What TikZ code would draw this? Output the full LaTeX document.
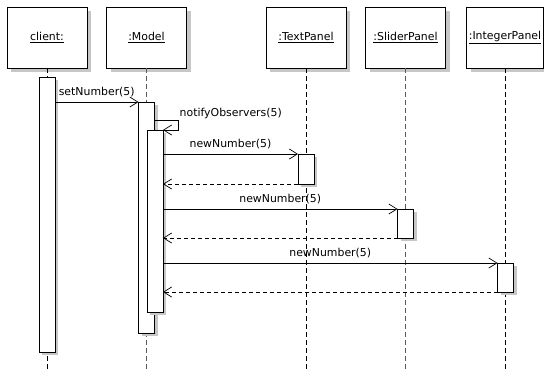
\documentclass[tikz,border=0pt]{standalone}
\usepackage{fontspec}
\setmainfont{DejaVu Sans}
\usetikzlibrary{arrows.meta,shadows}
\begin{document}
\begin{tikzpicture}[x=1pt,y=-1pt,
  font=\fontsize{10.9}{12}\selectfont,
  head/.style={draw, line width=0.8pt, fill=white, minimum width=80pt, minimum height=61pt,
    inner sep=0pt, outer sep=0pt,
    drop shadow={shadow xshift=4pt, shadow yshift=-4pt, fill=black!22, opacity=1}},
  act/.style={draw, line width=0.8pt, fill=white, minimum width=16pt, inner sep=0pt, outer sep=0pt,
    anchor=north,
    drop shadow={shadow xshift=3pt, shadow yshift=-3pt, fill=black!22, opacity=1}},
  life/.style={line width=0.8pt, dash pattern=on 5pt off 3pt},
  glife/.style={life, draw=black!65, line width=1.2pt},
  msg/.style={line width=0.7pt, -{Straight Barb[length=8pt,width=10pt]}},
  ret/.style={msg, dash pattern=on 4pt off 3pt},
  lbl/.style={inner sep=1pt}]
\useasboundingbox (0,0) rectangle (544,370);
% heads
\node[head] (hC) at (47,37.5) {\underline{client:}};
\node[head] (hM) at (146.5,37.5) {\underline{:Model}};
\node[head] (hT) at (306,37.5) {\underline{:TextPanel}};
\node[head] (hS) at (405.5,37.5) {\underline{:SliderPanel}};
\node[head, minimum width=77pt] (hI) at (505,37.5) {\underline{:IntegerPanel}};
% lifeline ends
\coordinate (eC) at (47,370);
\coordinate (eM) at (146.5,370);
\coordinate (eT) at (306,370);
\coordinate (eS) at (405.5,370);
\coordinate (eI) at (505.5,370);
\draw[life] (hC.south) -- (eC);
\draw[glife] (hM.south) -- (eM);
\draw[life] (hT.south) -- (eT);
\draw[glife] (hS.south) -- (eS);
\draw[life] (hI.south -| eI) -- (eI);
% activations
\node[act, minimum height=275pt] (cA) at (47,77) {};
\node[act, minimum height=231pt] (mA) at (146.5,102) {};
\node[act, minimum height=182pt] (mB) at (155,130) {};
\node[act, minimum height=30pt] (tA) at (306,154) {};
\node[act, minimum height=29pt] (sA) at (405.5,209) {};
\node[act, minimum height=29pt] (iA) at (505.5,263) {};
% messages
\draw[msg] (cA.east |- mA.north west) -- node[lbl, above=4pt] {setNumber(5)} (mA.north west);
\draw[msg] (mA.north east) ++(0,18) coordinate (sc0) -- ++(24,0) coordinate (sc1) |- (mB.north east);
\node[lbl, anchor=south west] (lN) at (sc1) {notifyObservers(5)};
\draw[msg] (mB.east |- tA.north west) -- node[lbl, above=4pt] {newNumber(5)} (tA.north west);
\draw[ret] (tA.south west) -- (mB.east |- tA.south west);
\draw[msg] (mB.east |- sA.north west) -- node[lbl, above=4pt] {newNumber(5)} (sA.north west);
\draw[ret] (sA.south west) -- (mB.east |- sA.south west);
\draw[msg] (mB.east |- iA.north west) -- node[lbl, above=4pt] {newNumber(5)} (iA.north west);
\draw[ret] (iA.south west) -- (mB.east |- iA.south west);
\end{tikzpicture}
\end{document}
